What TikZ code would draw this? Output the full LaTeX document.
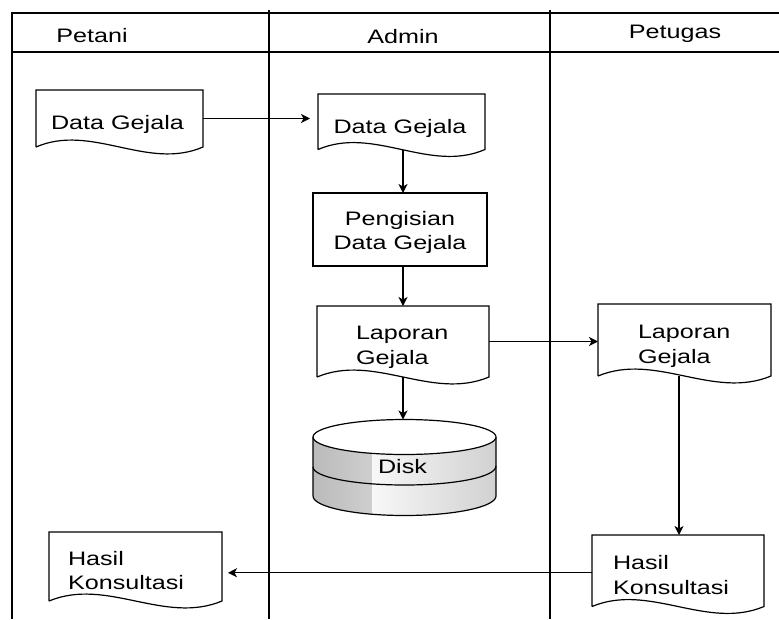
\documentclass[tikz,border=0pt]{standalone}
\usepackage{fontspec}
\setmainfont{Liberation Sans}[FakeStretch=1.29]
\usetikzlibrary{arrows.meta,calc}

% outline of a flowchart "document" symbol around an empty placeholder node
\newcommand\docoutline[1]{%
  \draw[outline] (#1.south west) -- (#1.north west) -- (#1.north east) -- (#1.south east)
    .. controls ($(#1.south east)!1/3!(#1.south west)+(0,24)$)
            and ($(#1.south east)!2/3!(#1.south west)+(0,-24)$) .. (#1.south west);}

\tikzset{
  every node/.style={font=\fontsize{19.5}{24.5}\selectfont, inner sep=0pt, outer sep=0pt},
  lane/.style={line width=1.2pt},
  outline/.style={line width=1.2pt, line join=miter},
  docbox/.style={draw=none, anchor=north west, minimum width=#1},
  procbox/.style={draw, line width=1.2pt, anchor=north west},
  flow/.style={line width=1.2pt, -{Stealth[length=9pt,width=9pt,inset=2.5pt]}},
  txt/.style={align=left},
}

\begin{document}
\begin{tikzpicture}[x=1pt,y=-1pt]
\useasboundingbox (0,0) rectangle (779,619);

% swimlane frame
\draw[lane] (12,619) -- (12,13) -- (779,13);
\draw[lane] (12,52) -- (779,52);
\draw[lane] (269,10) -- (269,619);
\draw[lane] (550,10) -- (550,619);

\node[anchor=base] (hPetani) at (92,42) {Petani};
\node[anchor=base] (hAdmin) at (403,43) {Admin};
\node[anchor=base] (hPetugas) at (675,38.5) {Petugas};

% x positions of the vertical flows
\coordinate (colA) at (403,0);
\coordinate (colP) at (679,0);

% documents and process
\node[docbox=167, minimum height=57] (petDG) at (36,90) {};
\docoutline{petDG}
\node[anchor=base] (petDGt) at (117.5,129) {Data Gejala};

\node[docbox=167, minimum height=55.5] (admDG) at (318,94) {};
\docoutline{admDG}
\node[anchor=base] (admDGt) at (400,133) {Data Gejala};

\node[procbox, minimum width=174, minimum height=73] (isi) at (313,193) {};
\node[align=center] (isit) at (400,232.5) {Pengisian\\Data Gejala};

\node[docbox=172, minimum height=71] (lapA) at (317,306) {};
\docoutline{lapA}
\node[txt, anchor=west] (lapAt) at (356,347.5) {Laporan\\Gejala};

\node[docbox=173, minimum height=72] (lapP) at (598,304) {};
\docoutline{lapP}
\node[txt, anchor=west] (lapPt) at (638,346.5) {Laporan\\Gejala};

\node[docbox=172, minimum height=71.5] (hasilP) at (592,535) {};
\docoutline{hasilP}
\node[txt, anchor=west] (hasilPt) at (613,575.25) {Hasil\\Konsultasi};

\node[docbox=173, minimum height=69] (hasilL) at (49,532) {};
\docoutline{hasilL}
\node[txt, anchor=west] (hasilLt) at (68,570.75) {Hasil\\Konsultasi};

% disk storage
\node[draw=none, anchor=north, minimum width=183, minimum height=96] (disk) at (404.5,419.5) {};
\begin{scope}
  \clip (313,437) -- (313,496)
    .. controls (313,506.8) and (354,515.5) .. (404.5,515.5)
    .. controls (455,515.5) and (496,506.8) .. (496,496) -- (496,437) -- cycle;
  \shade[left color=black!27, right color=black!19] (313,400) rectangle (372,530);
  \shade[left color=black!3, right color=black!18] (372,400) rectangle (496,530);
\end{scope}
\draw[outline] (313,437) -- (313,496)
    .. controls (313,506.8) and (354,515.5) .. (404.5,515.5)
    .. controls (455,515.5) and (496,506.8) .. (496,496) -- (496,437);
\draw[outline] (313,467) .. controls (313,477) and (354,485) .. (404.5,485)
    .. controls (455,485) and (496,477) .. (496,466);
\draw[outline, fill=white] (404.5,437) ellipse [x radius=91.5, y radius=17.5];
\node[anchor=base west] (diskt) at (378,473) {Disk};

% flows
\draw[flow, shorten >=8pt] (petDG.east) -- (petDG.east -| admDG.west);
\draw[flow] (admDG.south -| colA) -- (isi.north -| colA);
\draw[flow] (isi.south -| colA) -- (lapA.north -| colA);
\draw[flow] (lapA.south -| colA) -- (disk.north -| colA);
\draw[flow] (lapA.east) -- (lapA.east -| lapP.west);
\draw[flow] (lapP.south -| colP) -- (hasilP.north -| colP);
\draw[flow, shorten >=6pt] ($(hasilP.west)+(0,2)$) -- ($(hasilP.west -| hasilL.east)+(0,2)$);
\end{tikzpicture}
\end{document}
